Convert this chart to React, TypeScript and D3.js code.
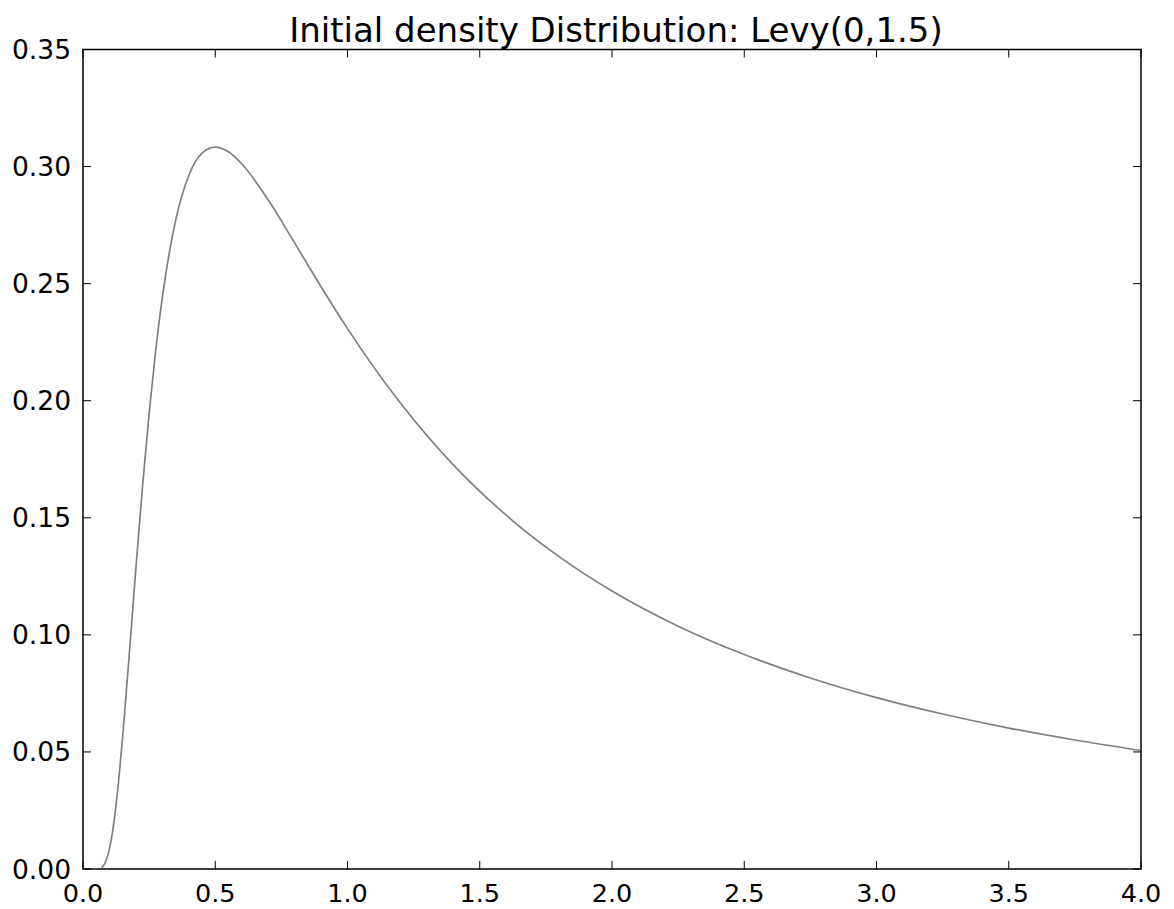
import { useEffect, useRef } from 'react';
import * as d3 from 'd3';

// curve values
const xValues = [0.07, 0.075, 0.0875, 0.1, 0.1125, 0.125, 0.1375, 0.15, 0.1625, 0.175, 0.1875, 0.2, 0.225, 0.25, 0.275, 0.3, 0.35, 0.4, 0.45, 0.5, 0.55, 0.6, 0.7, 0.8, 0.9, 1.0, 1.2, 1.4, 1.6, 1.8, 2.0, 2.25, 2.5, 2.75, 3.0, 3.25, 3.5, 3.75, 4.0];
const densityValues = [0.0006, 0.0011, 0.0036, 0.0086, 0.0165, 0.0274, 0.041, 0.0567, 0.0739, 0.0918, 0.1102, 0.1285, 0.1633, 0.1946, 0.2216, 0.2441, 0.2769, 0.2962, 0.3057, 0.3083, 0.3063, 0.3012, 0.2858, 0.2674, 0.2487, 0.2308, 0.199, 0.1726, 0.1511, 0.1334, 0.1187, 0.1037, 0.0916, 0.0816, 0.0732, 0.0662, 0.0602, 0.0551, 0.0506];
const xTicks = [0, 0.5, 1, 1.5, 2, 2.5, 3, 3.5, 4];
const yTicks = [0, 0.05, 0.1, 0.15, 0.2, 0.25, 0.3, 0.35];
const title = 'Initial density Distribution: Levy(0,1.5)';

function App() {
  const ref = useRef<SVGSVGElement>(null);

  useEffect(() => {
    const svg = d3.select(ref.current);
    svg.selectAll('*').remove();

    const left = 83, right = 1141, top = 49.5, bottom = 869;
    const x = d3.scaleLinear().domain([0, 4]).range([left, right]);
    const y = d3.scaleLinear().domain([0, 0.35]).range([bottom, top]);
    const font = 'DejaVu Sans, sans-serif';
    const tick = 8;

    const data = xValues.map((v, i) => ({ x: v, y: densityValues[i] }));

    // curve
    const line = d3.line<{ x: number; y: number }>()
      .x(d => x(d.x))
      .y(d => y(d.y))
      .curve(d3.curveMonotoneX);

    svg.append('path')
      .datum(data)
      .attr('d', line)
      .attr('fill', 'none')
      .attr('stroke', '#808080')
      .attr('stroke-width', 1.7);

    // ticks, inward on all sides
    const g = svg.append('g').attr('stroke', '#000').attr('stroke-width', 1);
    xTicks.forEach(t => {
      g.append('line').attr('x1', x(t)).attr('x2', x(t)).attr('y1', bottom).attr('y2', bottom - tick);
      g.append('line').attr('x1', x(t)).attr('x2', x(t)).attr('y1', top).attr('y2', top + tick);
    });
    yTicks.forEach(t => {
      g.append('line').attr('x1', left).attr('x2', left + tick).attr('y1', y(t)).attr('y2', y(t));
      g.append('line').attr('x1', right).attr('x2', right - tick).attr('y1', y(t)).attr('y2', y(t));
    });

    // frame
    svg.append('rect')
      .attr('x', left).attr('y', top)
      .attr('width', right - left).attr('height', bottom - top)
      .attr('fill', 'none')
      .attr('stroke', '#000')
      .attr('stroke-width', 1.5);

    // tick labels
    svg.selectAll('.xl')
      .data(xTicks)
      .enter()
      .append('text')
      .attr('x', d => x(d))
      .attr('y', 902)
      .attr('text-anchor', 'middle')
      .style('font-family', font)
      .style('font-size', '25.5px')
      .attr('fill', '#000')
      .text(d => d.toFixed(1));

    svg.selectAll('.yl')
      .data(yTicks)
      .enter()
      .append('text')
      .attr('x', 71)
      .attr('y', d => y(d))
      .attr('dy', '0.36em')
      .attr('text-anchor', 'end')
      .style('font-family', font)
      .style('font-size', '26.5px')
      .attr('fill', '#000')
      .text(d => d.toFixed(2));

    // title
    svg.append('text')
      .attr('x', (left + right) / 2 + 4)
      .attr('y', 42)
      .attr('text-anchor', 'middle')
      .style('font-family', font)
      .style('font-size', '34px')
      .attr('fill', '#000')
      .text(title);
  }, []);

  return (
    <div style={{ position: 'absolute', left: 0, top: 0 }}>
      <svg ref={ref} width={1174} height={909} style={{ display: 'block', background: '#fff' }} />
    </div>
  );
}

export default App;
